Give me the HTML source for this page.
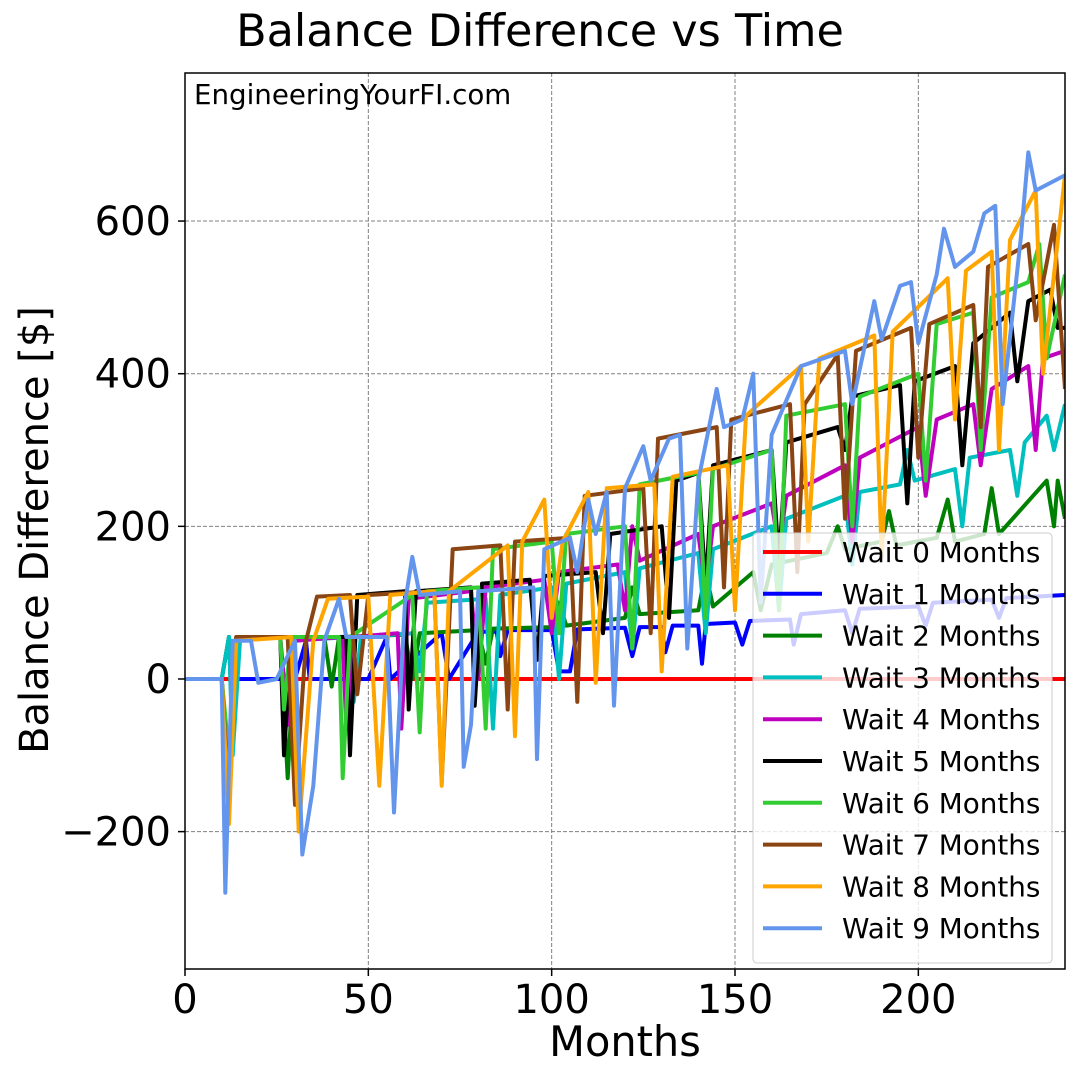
<!DOCTYPE html>
<html><head><meta charset="utf-8"><style>
html,body{margin:0;padding:0;background:#fff;}
svg{display:block;font-family:"DejaVu Sans","Liberation Sans",sans-serif;}
</style></head><body>
<svg id="chart" width="1080" height="1080" viewBox="0 0 1080 1080" xmlns="http://www.w3.org/2000/svg">
<rect width="1080" height="1080" fill="#fff"/>
<text x="540" y="46" font-size="44.5" text-anchor="middle">Balance Difference vs Time</text>
<defs><clipPath id="clip"><rect x="185" y="73" width="880" height="896"/></clipPath></defs>
<g id="grid"></g>
<g id="series" clip-path="url(#clip)"></g>
<rect x="185" y="73" width="880" height="896" fill="none" stroke="#000" stroke-width="1.5"/>
<g id="ticks"></g>
<text x="194" y="104" font-size="27.7">EngineeringYourFI.com</text>
<text x="625" y="1056" font-size="41.5" text-anchor="middle">Months</text>
<text transform="translate(48,530) rotate(-90)" font-size="40" text-anchor="middle">Balance Difference [$]</text>
<g id="legend"></g>
</svg>
<script>
const xTicks=[0,50,100,150,200];
const yTicks=[-200,0,200,400,600];
const yTickLabels=["\u2212200","0","200","400","600"];
const seriesNames=["Wait 0 Months","Wait 1 Months","Wait 2 Months","Wait 3 Months","Wait 4 Months","Wait 5 Months","Wait 6 Months","Wait 7 Months","Wait 8 Months","Wait 9 Months"];
const seriesColors=["#ff0000","#0000ff","#008000","#00bfbf","#bf00bf","#000000","#32cd32","#8b4513","#ffa500","#6495ed"];
const s0=[[0,0],[240,0]];
const s1=[[0,0],[10,0],[12,55],[13,0],[30,0],[33,50],[34,0],[50,0],[55,55],[56,0],[70,60],[72,0],[80,62],[85,62],[86,30],[88,64],[100,64],[102,10],[105,10],[107,65],[120,67],[122,30],[124,68],[130,68],[131,35],[133,70],[140,70],[141,20],[142,72],[150,74],[152,45],[154,76],[165,78],[166,45],[168,85],[180,90],[182,60],[184,92],[200,95],[202,70],[204,100],[220,104],[222,80],[224,106],[240,110]];
const s2=[[0,0],[10,0],[12,55],[13,-80],[14,55],[26,55],[28,-130],[30,50],[38,55],[40,-10],[42,55],[60,58],[62,0],[64,60],[80,64],[82,20],[84,66],[100,68],[102,100],[104,70],[120,80],[122,120],[124,85],[140,90],[142,140],[144,95],[155,140],[157,90],[160,150],[175,165],[178,200],[180,170],[190,180],[192,220],[194,175],[205,185],[208,235],[210,180],[218,190],[220,250],[222,190],[235,260],[237,200],[238,260],[240,210]];
const s3=[[0,0],[10,0],[12,55],[13,-100],[15,50],[26,55],[27,-40],[29,50],[45,55],[46,-30],[48,55],[62,60],[64,10],[66,100],[82,105],[84,-65],[86,110],[100,120],[102,0],[104,125],[120,140],[122,40],[124,145],[140,165],[142,60],[144,170],[160,200],[162,90],[164,210],[180,240],[182,150],[184,245],[195,255],[197,300],[199,260],[210,275],[212,200],[214,290],[225,300],[227,240],[229,310],[235,345],[237,300],[240,360]];
const s4=[[0,0],[10,0],[12,-120],[14,55],[26,55],[28,-60],[30,50],[43,55],[44,-65],[46,55],[58,60],[59,-65],[61,105],[78,115],[80,0],[82,120],[98,130],[100,60],[102,140],[118,150],[120,90],[122,200],[124,155],[140,190],[142,120],[144,200],[160,230],[162,170],[164,240],[180,280],[182,180],[184,290],[200,330],[202,240],[205,340],[215,360],[217,280],[220,380],[230,410],[232,300],[234,420],[240,430]];
const s5=[[0,0],[10,0],[12,-150],[14,55],[26,55],[27,-100],[29,55],[44,55],[45,-100],[47,110],[60,115],[61,-40],[63,115],[78,120],[79,-35],[81,125],[94,130],[96,25],[98,135],[112,140],[114,60],[116,190],[130,200],[132,80],[134,260],[140,270],[142,120],[144,280],[160,300],[162,150],[164,310],[178,330],[180,300],[182,370],[195,385],[197,230],[199,390],[210,410],[212,280],[215,440],[225,480],[227,390],[230,495],[236,510],[238,460],[240,460]];
const s6=[[0,0],[10,0],[12,-100],[14,55],[26,55],[27,-40],[29,55],[42,55],[43,-130],[45,55],[62,110],[64,-70],[66,115],[80,120],[82,-65],[84,170],[100,180],[102,60],[104,190],[120,200],[122,40],[124,255],[140,270],[142,80],[144,275],[160,300],[162,90],[164,345],[180,360],[182,200],[184,370],[200,400],[202,260],[205,465],[215,480],[217,300],[220,500],[230,520],[233,570],[235,420],[240,530]];
const s7=[[0,0],[10,0],[12,-160],[14,55],[28,55],[30,-165],[33,50],[36,108],[45,110],[47,-20],[50,110],[68,115],[70,-135],[73,170],[86,175],[88,-40],[90,180],[105,185],[107,-30],[109,240],[125,250],[127,60],[129,315],[145,330],[147,120],[149,340],[165,360],[167,140],[169,360],[178,425],[180,210],[183,430],[198,460],[200,290],[203,465],[215,490],[217,330],[219,540],[230,570],[232,470],[237,595],[240,380]];
const s8=[[0,0],[10,0],[12,-190],[14,50],[29,55],[31,-200],[35,50],[39,105],[50,108],[53,-140],[56,110],[68,115],[70,-140],[72,115],[88,175],[90,-75],[92,180],[98,235],[100,80],[103,180],[110,245],[112,-5],[115,250],[128,255],[130,10],[133,265],[148,280],[150,90],[153,345],[168,410],[170,180],[173,420],[188,450],[190,160],[193,455],[208,525],[210,340],[213,535],[220,560],[222,300],[225,575],[232,640],[234,400],[240,660]];
const s9=[[0,0],[10,0],[11,-280],[13,50],[18,50],[20,-5],[25,0],[30,50],[32,-230],[35,-140],[38,50],[42,105],[44,55],[55,55],[57,-175],[60,100],[62,160],[64,110],[75,115],[76,-115],[78,-60],[80,115],[95,120],[96,-105],[98,170],[105,185],[107,140],[110,235],[112,190],[115,245],[117,-35],[120,250],[125,305],[127,260],[132,315],[135,320],[137,40],[140,260],[145,380],[147,330],[152,340],[155,400],[157,100],[160,320],[168,410],[180,430],[182,360],[188,495],[190,445],[195,515],[198,520],[200,440],[205,530],[207,590],[210,540],[215,560],[218,610],[221,620],[223,360],[228,580],[230,690],[232,640],[240,660]];
const allSeries=[s0,s1,s2,s3,s4,s5,s6,s7,s8,s9];

const NS="http://www.w3.org/2000/svg";
const X0=185,X1=1065,Y0=969,Y1=73,XMIN=0,XMAX=240,YMIN=-380,YMAX=794;
function xs(v){return X0+(v-XMIN)/(XMAX-XMIN)*(X1-X0);}
function ys(v){return Y0-(v-YMIN)/(YMAX-YMIN)*(Y0-Y1);}
function mk(t,a){const e=document.createElementNS(NS,t);for(const k in a)e.setAttribute(k,a[k]);return e;}
const grid=document.getElementById('grid'),ticks=document.getElementById('ticks');
xTicks.forEach(v=>{
  const x=xs(v);
  const g=mk('line',{x1:x,x2:x,y1:Y1,y2:Y0,stroke:'#808080','stroke-dasharray':'4,2','stroke-width':1});
  
  
  grid.appendChild(g);
  const t=mk('line',{x1:x,x2:x,y1:Y0,y2:Y0+7,stroke:'#000','stroke-width':1.5});
  
  
  ticks.appendChild(t);
  const l=mk('text',{x:x,y:1013,'font-size':40,'text-anchor':'middle'});
  l.textContent=String(v);
  
  
  ticks.appendChild(l);
});
yTicks.forEach((v,i)=>{
  const y=ys(v);
  const g=mk('line',{x1:X0,x2:X1,y1:y,y2:y,stroke:'#808080','stroke-dasharray':'4,2','stroke-width':1});
  
  
  grid.appendChild(g);
  const t=mk('line',{x1:X0-7,x2:X0,y1:y,y2:y,stroke:'#000','stroke-width':1.5});
  
  
  ticks.appendChild(t);
  const l=mk('text',{x:171,y:y+14,'font-size':40,'text-anchor':'end'});
  l.textContent=yTickLabels[i];
  
  
  ticks.appendChild(l);
});
const sg=document.getElementById('series');
allSeries.forEach((s,i)=>{
  const p=mk('polyline',{points:s.map(d=>xs(d[0]).toFixed(1)+','+ys(d[1]).toFixed(1)).join(' '),fill:'none',stroke:seriesColors[i],'stroke-width':4,'stroke-linejoin':'round'});
  
  
  sg.appendChild(p);
});
const lg=document.getElementById('legend');
const box=mk('rect',{x:753,y:533,width:299,height:430,rx:4,fill:'#fff','fill-opacity':0.8,stroke:'#ccc','stroke-width':1});


lg.appendChild(box);
seriesNames.forEach((n,i)=>{
  const y=552+i*41.8;
  const l=mk('line',{x1:763,x2:822,y1:y,y2:y,stroke:seriesColors[i],'stroke-width':4});
  
  
  lg.appendChild(l);
  const t=mk('text',{x:842,y:y+10,'font-size':27.8});
  t.textContent=n;
  
  
  lg.appendChild(t);
});
</script>
</body></html>
